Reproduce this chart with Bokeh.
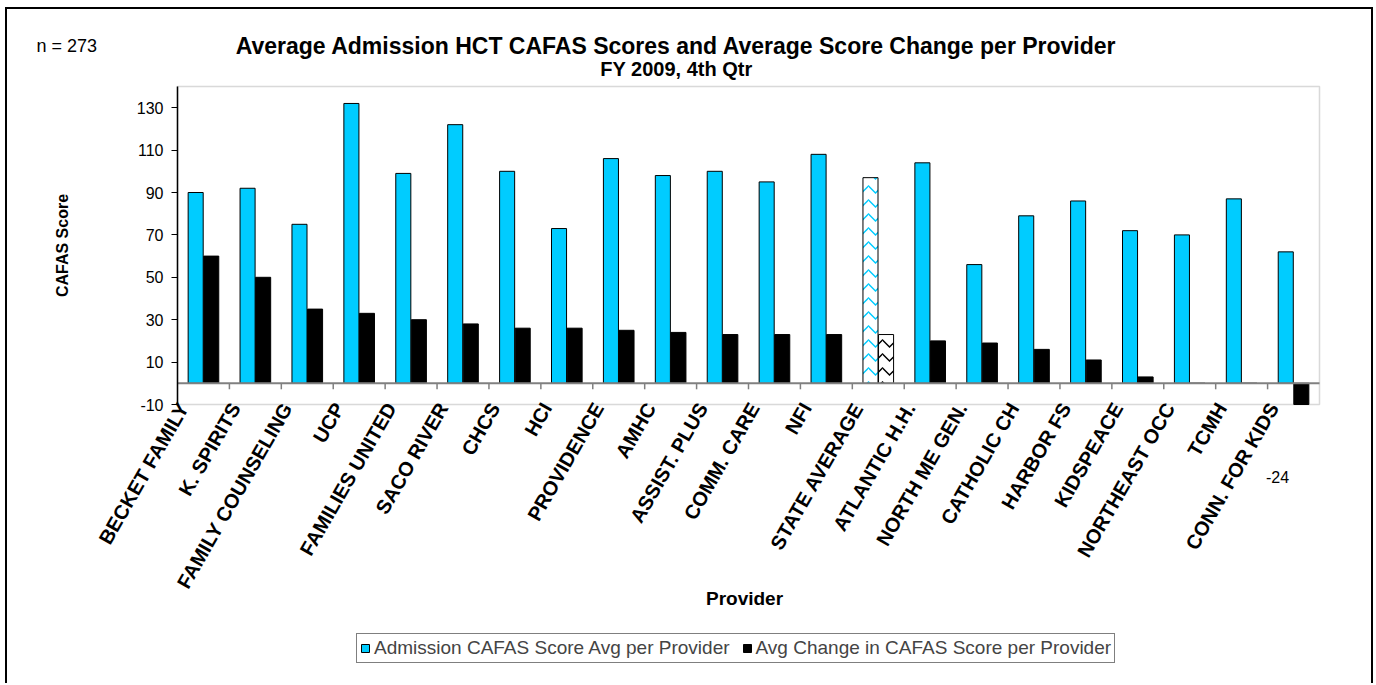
import math
from bokeh.plotting import figure
from bokeh.models import (ColumnDataSource, Range1d, FixedTicker, BoxAnnotation,
                          Legend, LegendItem, InlineStyleSheet, LinearAxis, Grid)
from bokeh.transform import dodge
from bokeh.core.properties import value
from bokeh.embed import file_html
from bokeh.resources import INLINE

# ---------------- data ----------------
providers = ["BECKET FAMILY", "K. SPIRITS", "FAMILY COUNSELING", "UCP", "FAMILIES UNITED",
             "SACO RIVER", "CHCS", "HCI", "PROVIDENCE", "AMHC", "ASSIST. PLUS", "COMM. CARE",
             "NFI", "STATE AVERAGE", "ATLANTIC H.H.", "NORTH ME GEN.", "CATHOLIC CH",
             "HARBOR FS", "KIDSPEACE", "NORTHEAST OCC", "TCMH", "CONN. FOR KIDS"]
admission = [90, 92, 75, 132, 99, 122, 100, 73, 106, 98, 100, 95, 108, 97, 104, 56, 79,
             86, 72, 70, 87, 62]
change = [60, 50, 35, 33, 30, 28, 26, 26, 25, 24, 23, 23, 23, 23, 20, 19, 16, 11, 3, 0, 0, -24]
highlight = ["STATE AVERAGE"]
y_ticks = [-10, 10, 30, 50, 70, 90, 110, 130]
series_names = ["Admission CAFAS Score Avg per Provider", "Avg Change in CAFAS Score per Provider"]
title_lines = ["Average Admission HCT CAFAS Scores and Average Score Change per Provider",
               "FY 2009, 4th Qtr"]
n_text = "n = 273"
y_label = "CAFAS Score"
x_label = "Provider"

# ---------------- style / geometry ----------------
CYAN = "#00CCFF"
GRAY = "#808080"
FONT = "Liberation Sans"
W, H = 1374, 683
ML, MT = 177, 86              # plot-area offset on the canvas (px)
FRAME_W, FRAME_H = 1142, 318  # plot-area size (px)
YMIN, YMAX = -10, 140         # value axis limits
NCAT = len(providers)
PX_PER_UNIT = FRAME_H / (YMAX - YMIN)
CAT_W = FRAME_W / NCAT
FB = MT + FRAME_H

def xd(px):
    return (px - ML) / CAT_W
def yd(py):
    return YMIN + (FB - py) / PX_PER_UNIT

centers = [i + 0.5 for i in range(NCAT)]
src = ColumnDataSource(dict(
    xc=centers,
    provider=providers,
    admission=admission,
    change=change,
    change_drawn=[max(v, YMIN) for v in change],   # bars are cut at the axis minimum
    adm_fill=["white" if p_ in highlight else CYAN for p_ in providers],
    chg_fill=["white" if p_ in highlight else "black" for p_ in providers],
    hatch=["horizontal_wave" if p_ in highlight else " " for p_ in providers],
))
tick_src = ColumnDataSource(dict(xb=list(range(1, NCAT))))

p = figure(width=W, height=H,
           x_range=Range1d(xd(0), xd(W)), y_range=Range1d(yd(H), yd(0)),
           output_backend="svg", toolbar_location=None,
           x_axis_location=None, y_axis_location=None, min_border=0)
p.title.visible = False
p.outline_line_color = None
p.background_fill_color = "white"
p.border_fill_color = "white"
for g in p.select(type=Grid):
    g.visible = False

p.stylesheets = [InlineStyleSheet(css=(
    ":host::after { content: ''; position: absolute; left: 5px; top: 7px; "
    "width: 1368px; height: 676px; border: 2px solid #000; border-bottom: none; "
    "box-sizing: border-box; pointer-events: none; z-index: 100; }"))]

# plot-area border
p.add_layout(BoxAnnotation(left=0, right=NCAT, bottom=YMIN, top=YMAX, fill_color=None,
                           line_color=GRAY, line_width=1.5, level="underlay"))

r_adm = p.vbar(x=dodge("xc", -0.15), top="admission", bottom=0,
               width=0.29, source=src, fill_color="adm_fill", line_color="black",
               line_width=1, hatch_pattern="hatch", hatch_color=CYAN,
               hatch_scale=14, hatch_weight=1.5)
r_chg = p.vbar(x=dodge("xc", 0.15), top="change_drawn", bottom=0,
               width=0.29, source=src, fill_color="chg_fill", line_color="black",
               line_width=1, hatch_pattern="hatch", hatch_color="black",
               hatch_scale=14, hatch_weight=1.5)

# zero line with category-boundary ticks
p.segment(x0=[0], x1=[NCAT], y0=[0], y1=[0], line_color=GRAY, line_width=2)
tick_len = 6 / PX_PER_UNIT
p.segment(x0="xb", y0=0, x1="xb", y1=-tick_len,
          source=tick_src, line_color=GRAY, line_width=1.5)

# value axis
ya = LinearAxis(fixed_location=0, bounds=(YMIN, YMAX), ticker=FixedTicker(ticks=y_ticks),
                major_label_overrides={t: str(t) for t in y_ticks})
ya.minor_tick_line_color = None
ya.major_tick_in = 0
ya.major_tick_out = 6
ya.major_tick_line_color = "black"
ya.axis_line_color = "black"
ya.axis_line_width = 1.5
ya.major_label_standoff = 8
ya.major_label_text_font = FONT
ya.major_label_text_font_size = "16px"
ya.major_label_text_color = "black"
p.add_layout(ya, "left")

# category axis labels (Excel places them a little left of the category centre)
LBL_SHIFT = 20 / CAT_W
p.extra_x_ranges = {"lbl": Range1d(xd(0) + LBL_SHIFT, xd(W) + LBL_SHIFT)}
xa = LinearAxis(x_range_name="lbl", fixed_location=YMIN, ticker=FixedTicker(ticks=centers),
                major_label_overrides={c: n for c, n in zip(centers, providers)})
xa.axis_line_color = None
xa.major_tick_line_color = None
xa.minor_tick_line_color = None
xa.major_tick_in = 0
xa.major_tick_out = 0
xa.major_label_standoff = 0
xa.major_label_orientation = math.radians(60)
xa.major_label_text_font = FONT
xa.major_label_text_font_size = "20px"
xa.major_label_text_font_style = "bold"
xa.major_label_text_color = "black"
p.add_layout(xa, "below")

for g in p.select(type=Grid):
    g.visible = False

# texts
def add_text(text, px, py, size, bold=False, align="center", angle=0.0):
    p.text(x=[xd(px)], y=[yd(py)], text=[text], text_font=value(FONT),
           text_font_size=value(size), text_font_style=value("bold" if bold else "normal"),
           text_align=value(align), text_baseline=value("middle"), angle=angle,
           text_color="black")

add_text(title_lines[0], 676, 45, "23px", bold=True)
add_text(title_lines[1], 676, 68, "20px", bold=True)
add_text(n_text, 36, 45, "18px", align="left")
add_text(y_label, 62, 245, "16px", bold=True, angle=math.pi / 2)
add_text(x_label, 744, 598, "19px", bold=True)
add_text(f"{change[-1]:g}", 1277, 476, "16px")

# legend
legend = Legend(items=[LegendItem(label=series_names[0], renderers=[r_adm], index=0),
                       LegendItem(label=series_names[1], renderers=[r_chg], index=0)],
                orientation="horizontal", location=(356, H - 663),
                border_line_color="black", border_line_width=1,
                background_fill_color="white", background_fill_alpha=1,
                padding=3, spacing=12, margin=0, glyph_width=10, glyph_height=10,
                label_standoff=4, label_height=17,
                label_text_font=FONT, label_text_font_size="19px")
p.add_layout(legend)

open("out.html", "w").write(file_html(p, INLINE))
